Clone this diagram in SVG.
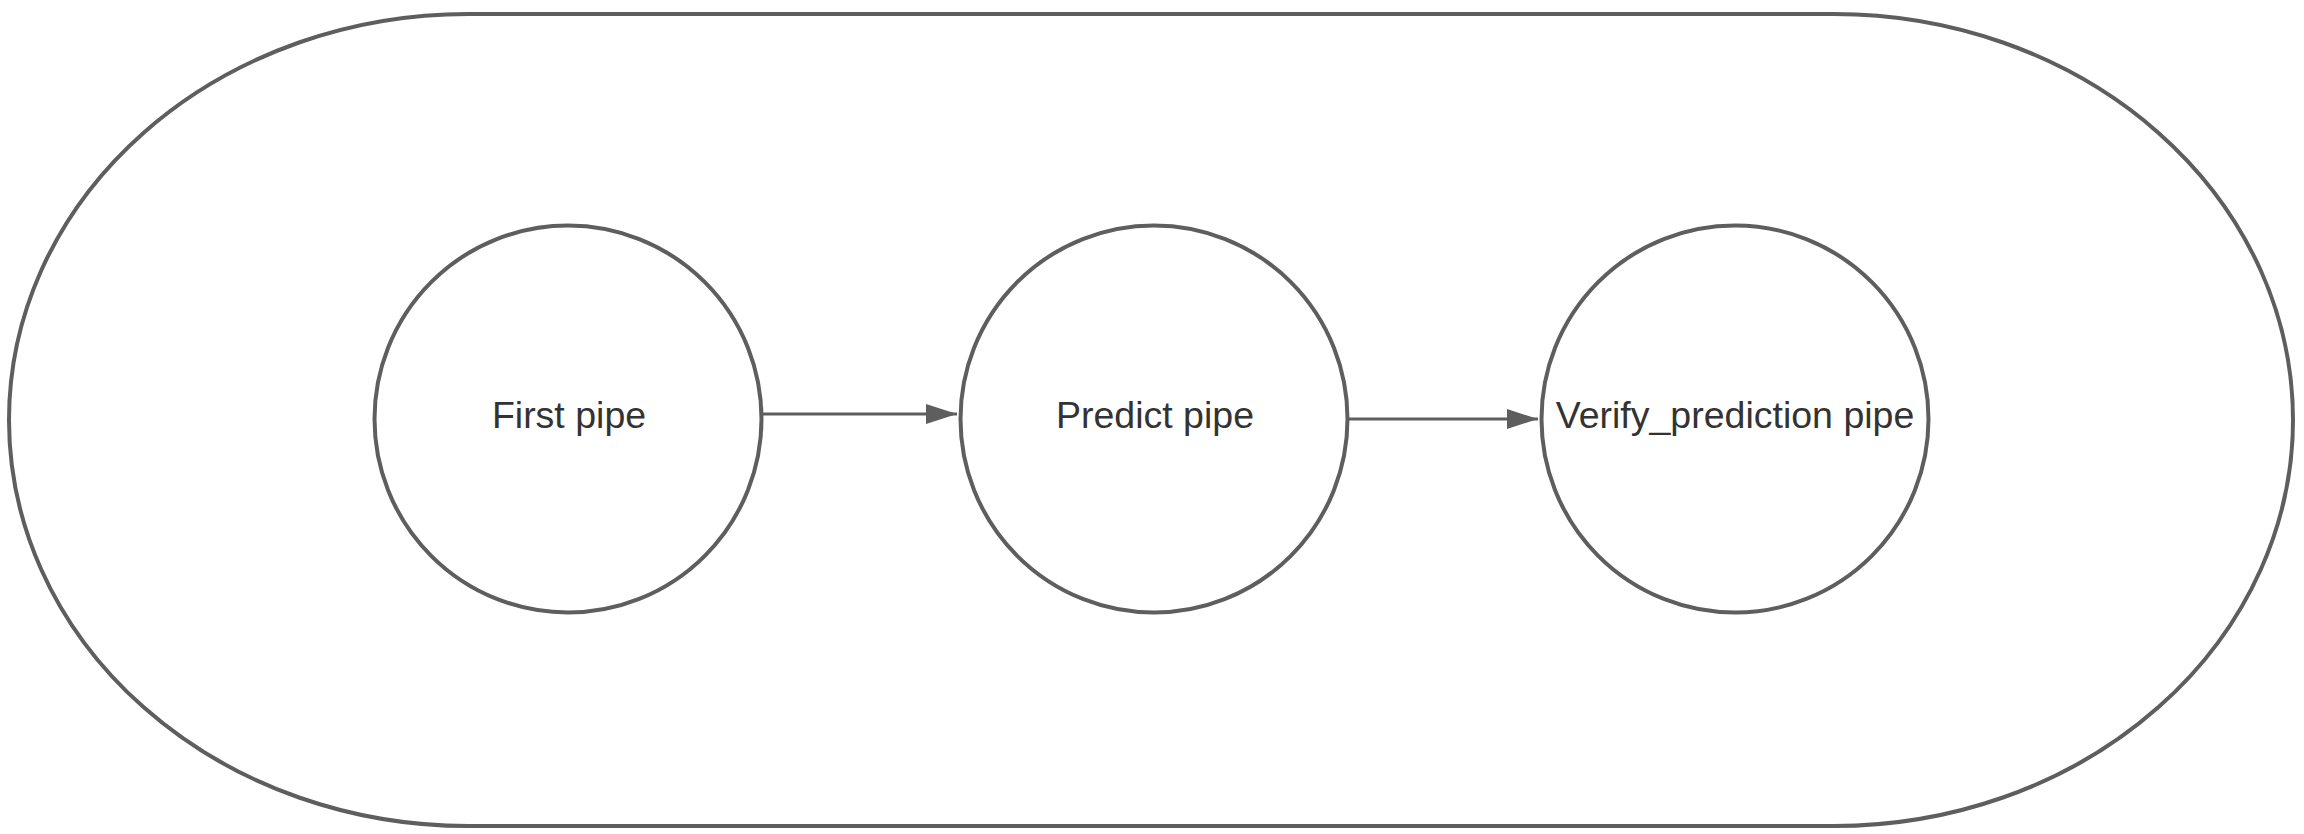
<svg xmlns="http://www.w3.org/2000/svg" width="2304" height="834" viewBox="0 0 2304 834">
  <style>
    .shape { fill: #ffffff; stroke: #5e5e5e; stroke-width: 4; }
    .label { font-family: "Liberation Sans", Arial, sans-serif; font-size: 37.5px; fill: #333333; text-anchor: middle; }
    .conn { stroke: #5e5e5e; stroke-width: 3; fill: none; }
  </style>
  <defs>
    <marker id="arrow" markerUnits="userSpaceOnUse" viewBox="0 0 31 20" refX="31" refY="10" markerWidth="31" markerHeight="20" orient="auto">
      <path d="M0,0 L31,10 L0,20 Z" fill="#5e5e5e"/>
    </marker>
  </defs>
  <rect width="2304" height="834" fill="#ffffff"/>
  <g id="container">
    <path class="shape" d="M468,14 H1834 A459 406 0 0 1 1834,826 H468 A459 406 0 0 1 468,14 Z"/>
  </g>
  <g id="first-pipe">
    <circle class="shape" cx="568" cy="419" r="193.5"/>
    <text class="label" x="569" y="427.7">First pipe</text>
  </g>
  <g id="predict-pipe">
    <circle class="shape" cx="1154" cy="419" r="193.5"/>
    <text class="label" x="1155" y="427.7">Predict pipe</text>
  </g>
  <g id="verify-prediction-pipe">
    <circle class="shape" cx="1735" cy="419" r="193.5"/>
    <text class="label" x="1735" y="427.7">Verify_prediction pipe</text>
  </g>
  <g id="connectors">
    <line class="conn" x1="763" y1="414" x2="957" y2="414" marker-end="url(#arrow)"/>
    <line class="conn" x1="1349" y1="419" x2="1538" y2="419" marker-end="url(#arrow)"/>
  </g>
</svg>
